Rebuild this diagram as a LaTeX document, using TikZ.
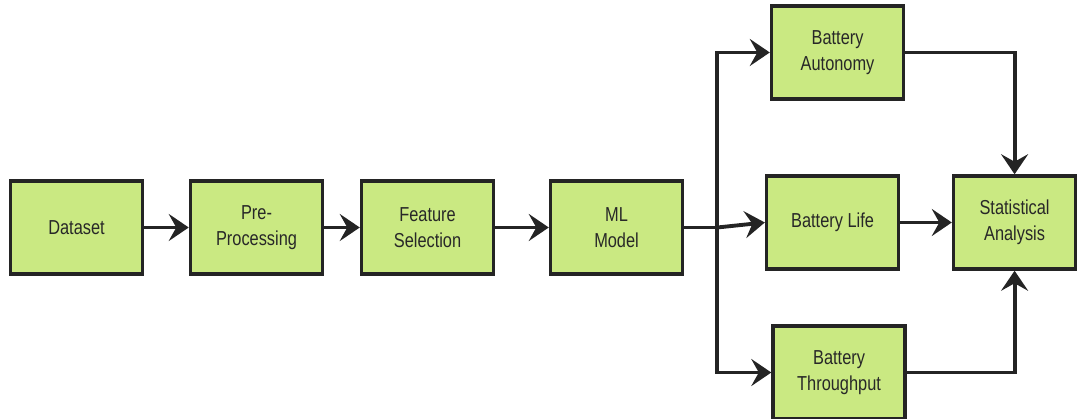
\documentclass[tikz,border=0pt]{standalone}
\usepackage{fontspec}
\setmainfont{Liberation Sans}[FakeStretch=0.81]
\usetikzlibrary{arrows.meta}
\usetikzlibrary{positioning}

\definecolor{boxgreen}{RGB}{202,233,130}
\definecolor{boxline}{RGB}{36,36,36}
\definecolor{txtgray}{RGB}{40,40,40}

\tikzset{
  block/.style={draw=boxline, line width=2pt, fill=boxgreen, minimum width=2.64cm,
    minimum height=1.86cm, align=center, text=txtgray, inner sep=2pt,
    font=\fontsize{11.5}{14.5}\selectfont},
  flow/.style={-{Stealth[length=4mm,width=5.4mm,inset=1.5mm]}, line width=2.2pt, draw=boxline},
  link/.style={line width=2.2pt, draw=boxline}
}

\begin{document}
\begin{tikzpicture}
  \path [use as bounding box, fill=white] (-1.53,-3.83) rectangle (20.01,4.55);

  \node [block] (idata) {Dataset};
  \node [block, right=0.89cm of idata] (ipre) {Pre-\\Processing};
  \node [block, right=0.71cm of ipre] (ifeat) {Feature\\Selection};
  \node [block, right=1.07cm of ifeat] (iml) {ML\\Model};

  \node [block, right=1.61cm of iml, yshift=0.1cm] (ilife) {Battery Life};
  \node [block, above=1.47cm of ilife, xshift=0.1cm] (iauto) {Battery\\Autonomy};
  \node [block, below=1.07cm of ilife, xshift=0.13cm] (ithru) {Battery\\Throughput};

  \node [block, right=1.03cm of ilife, minimum width=2.44cm] (istat) {Statistical\\Analysis};

  \coordinate (ibranch) at ([xshift=0.66cm]iml.east);

  \draw [flow] (idata) -- (ipre);
  \draw [flow] (ipre) -- (ifeat);
  \draw [flow] (ifeat) -- (iml);
  \draw [link] (iml.east) -- (ibranch);
  \draw [flow] (ibranch) -- (ilife.west);
  \draw [flow] (ibranch) |- (iauto.west);
  \draw [flow] (ibranch) |- (ithru.west);
  \draw [flow] (iauto.east) -| (istat.north);
  \draw [flow] (ilife) -- (istat);
  \draw [flow] (ithru.east) -| (istat.south);
\end{tikzpicture}
\end{document}
